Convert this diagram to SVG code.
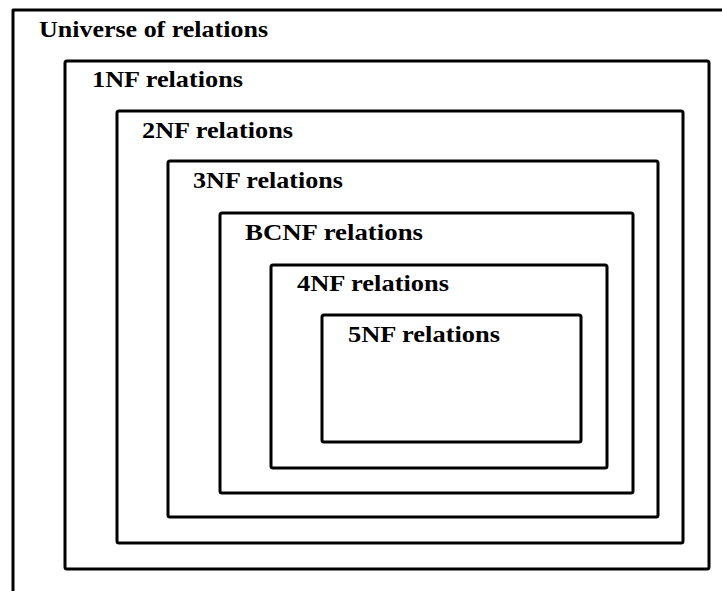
<svg xmlns="http://www.w3.org/2000/svg" width="722" height="591" viewBox="0 0 722 591">
<style>
.box{fill:none;stroke:#000;stroke-width:3;stroke-linejoin:round}
.lbl{font-family:"Liberation Serif","DejaVu Serif",serif;font-weight:bold;font-size:23px;fill:#000}
</style>
<rect width="722" height="591" fill="#fff"/>
<g id="universe">
<path class="box" d="M13,593 V10 H724"/>
<text class="lbl" x="39" y="37" textLength="229" lengthAdjust="spacingAndGlyphs">Universe of relations</text>
</g>
<g id="nf1">
<rect class="box" x="65" y="61" width="644" height="508" rx="2"/>
<text class="lbl" x="92" y="87" textLength="151" lengthAdjust="spacingAndGlyphs">1NF relations</text>
</g>
<g id="nf2">
<rect class="box" x="117" y="111" width="566" height="432" rx="2"/>
<text class="lbl" x="142" y="138" textLength="151" lengthAdjust="spacingAndGlyphs">2NF relations</text>
</g>
<g id="nf3">
<rect class="box" x="168" y="161" width="490" height="356" rx="2"/>
<text class="lbl" x="193" y="188" textLength="150" lengthAdjust="spacingAndGlyphs">3NF relations</text>
</g>
<g id="bcnf">
<rect class="box" x="220" y="213" width="413" height="280" rx="2"/>
<text class="lbl" x="245" y="240" textLength="178" lengthAdjust="spacingAndGlyphs">BCNF relations</text>
</g>
<g id="nf4">
<rect class="box" x="271" y="265" width="336" height="203" rx="2"/>
<text class="lbl" x="297" y="291" textLength="152" lengthAdjust="spacingAndGlyphs">4NF relations</text>
</g>
<g id="nf5">
<rect class="box" x="322" y="315" width="259" height="127" rx="2"/>
<text class="lbl" x="348" y="342" textLength="152" lengthAdjust="spacingAndGlyphs">5NF relations</text>
</g>
<g id="connectors"/>
</svg>
